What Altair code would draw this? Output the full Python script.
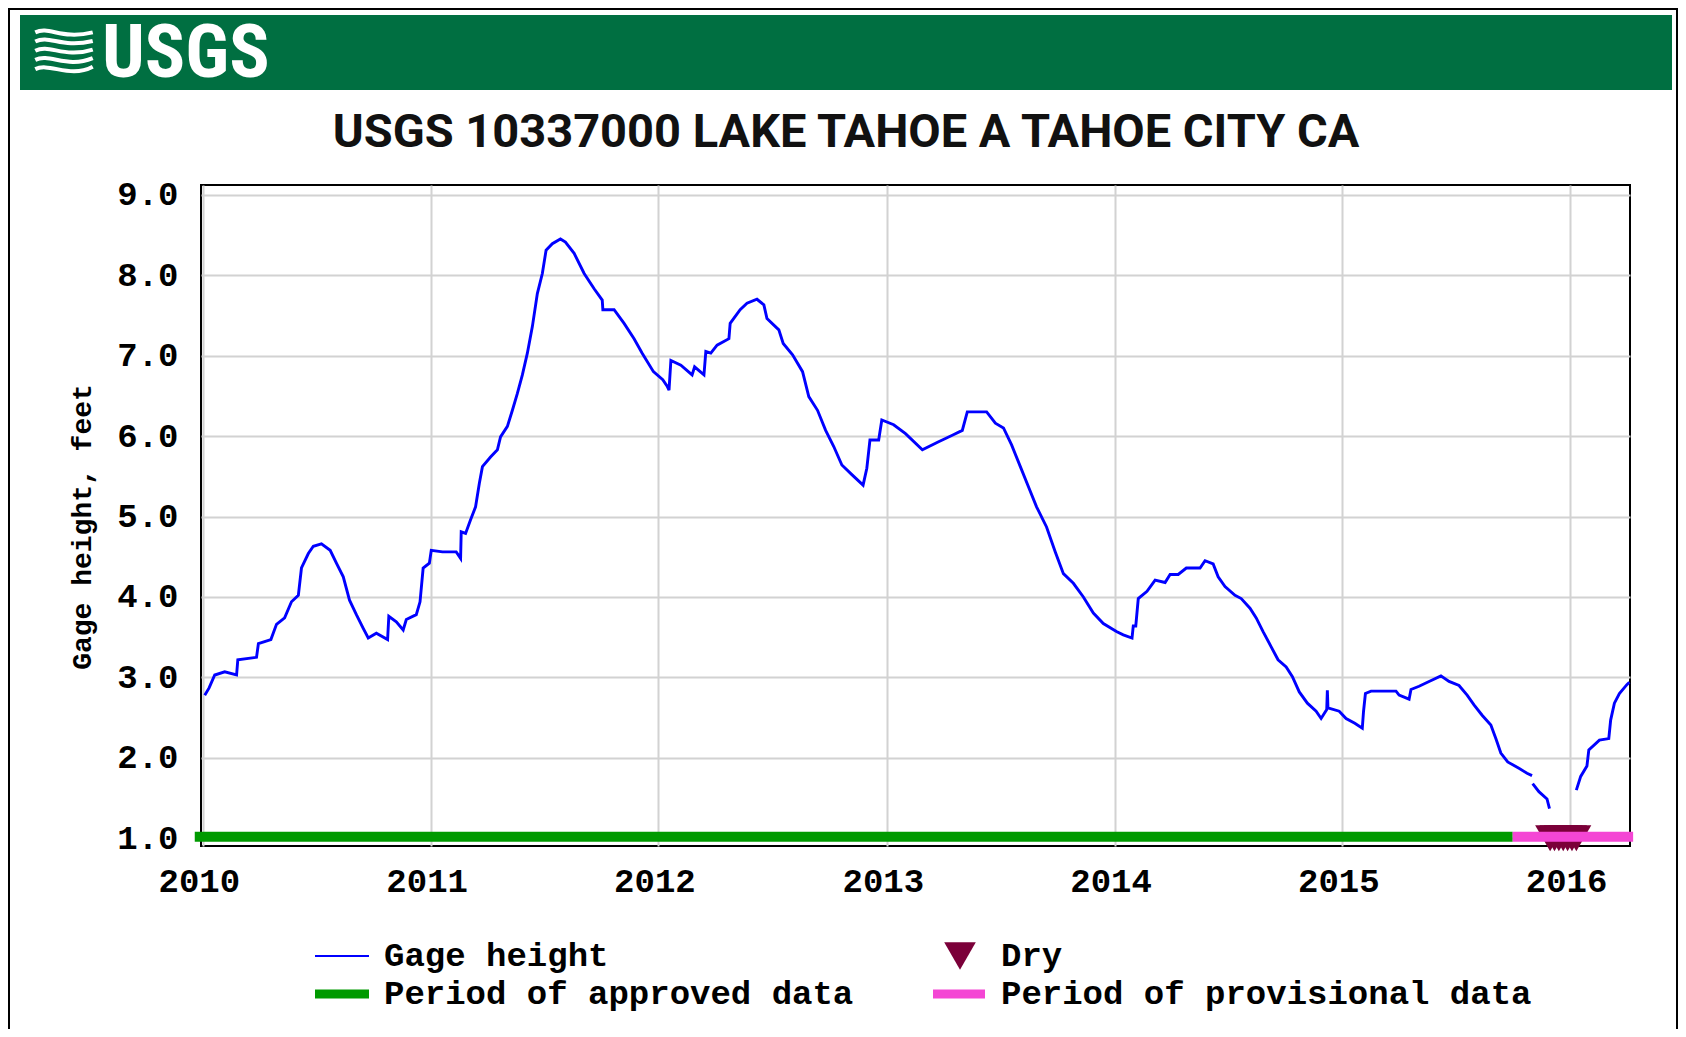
import altair as alt
import pandas as pd

# ---------------- data ----------------
gage_dates = [
    "2010-01-04", "2010-01-11", "2010-01-20", "2010-02-05", "2010-02-24", "2010-02-26",
    "2010-03-28", "2010-03-31", "2010-04-20", "2010-04-29", "2010-05-12", "2010-05-23",
    "2010-06-03", "2010-06-08", "2010-06-19", "2010-06-27", "2010-07-10", "2010-07-24",
    "2010-08-03", "2010-08-14", "2010-08-24", "2010-09-04", "2010-09-15", "2010-09-23",
    "2010-10-06", "2010-10-24", "2010-10-26", "2010-11-07", "2010-11-18", "2010-11-23",
    "2010-12-09", "2010-12-15", "2010-12-20", "2010-12-30",
    "2011-01-02", "2011-01-20", "2011-02-11", "2011-02-18", "2011-02-19", "2011-02-26",
    "2011-03-06", "2011-03-14", "2011-03-20", "2011-03-25", "2011-04-07", "2011-04-18",
    "2011-04-23", "2011-05-04", "2011-05-12", "2011-05-20", "2011-05-28", "2011-06-05",
    "2011-06-13", "2011-06-21", "2011-06-29", "2011-07-05", "2011-07-15", "2011-07-28",
    "2011-08-05", "2011-08-19", "2011-09-04", "2011-09-20", "2011-10-03", "2011-10-04",
    "2011-10-22", "2011-11-07", "2011-11-23", "2011-12-06", "2011-12-24",
    "2012-01-08", "2012-01-15", "2012-01-18", "2012-01-21", "2012-02-06", "2012-02-24",
    "2012-02-28", "2012-03-14", "2012-03-17", "2012-03-25", "2012-04-04", "2012-04-23",
    "2012-04-25", "2012-05-11", "2012-05-22", "2012-06-07", "2012-06-18", "2012-06-23",
    "2012-07-12", "2012-07-19", "2012-08-03", "2012-08-19", "2012-08-29", "2012-09-12",
    "2012-09-25", "2012-10-08", "2012-10-21", "2012-11-06", "2012-11-24", "2012-11-30",
    "2012-12-05", "2012-12-19", "2012-12-24",
    "2013-01-12", "2013-01-31", "2013-02-27", "2013-03-25", "2013-04-16", "2013-05-02",
    "2013-05-10", "2013-06-10", "2013-06-24", "2013-07-07", "2013-07-20", "2013-08-03",
    "2013-08-16", "2013-08-29", "2013-09-14", "2013-09-28", "2013-10-11", "2013-10-27",
    "2013-11-12", "2013-11-28", "2013-12-14",
    "2014-01-04", "2014-01-15", "2014-01-29", "2014-01-31", "2014-02-04", "2014-02-08",
    "2014-02-22", "2014-03-07", "2014-03-23", "2014-03-31", "2014-04-13", "2014-04-26",
    "2014-05-18", "2014-05-26", "2014-06-08", "2014-06-16", "2014-06-27", "2014-07-13",
    "2014-07-23", "2014-08-06", "2014-08-16", "2014-08-27", "2014-09-09", "2014-09-20",
    "2014-10-03", "2014-10-13", "2014-10-24", "2014-11-06", "2014-11-20", "2014-11-28",
    "2014-12-07", "2014-12-08", "2014-12-09", "2014-12-27",
    "2015-01-07", "2015-01-21", "2015-02-02", "2015-02-04", "2015-02-07", "2015-02-16",
    "2015-03-28", "2015-04-02", "2015-04-18", "2015-04-21", "2015-05-04", "2015-05-20",
    "2015-06-08", "2015-06-21", "2015-07-07", "2015-07-20", "2015-07-31", "2015-08-13",
    "2015-08-27", "2015-09-04", "2015-09-12", "2015-09-23", "2015-10-11", "2015-10-24",
    "2015-11-01",
    "2015-11-02", "2015-11-12", "2015-11-25", "2015-11-29",
    "2016-01-11", "2016-01-18", "2016-01-28", "2016-01-31", "2016-02-17", "2016-03-03",
    "2016-03-06", "2016-03-12", "2016-03-20", "2016-04-01", "2016-04-05",
]
gage_values = [
    2.78, 2.87, 3.03, 3.07, 3.03, 3.22,
    3.25, 3.42, 3.47, 3.66, 3.74, 3.94,
    4.02, 4.36, 4.54, 4.63, 4.66, 4.58,
    4.42, 4.25, 3.96, 3.78, 3.61, 3.49,
    3.55, 3.47, 3.76, 3.69, 3.59, 3.72,
    3.78, 3.94, 4.36, 4.42,
    4.58, 4.56, 4.56, 4.48, 4.81, 4.79,
    4.96, 5.12, 5.41, 5.62, 5.74, 5.83,
    5.99, 6.12, 6.32, 6.53, 6.76, 7.03,
    7.36, 7.77, 8.02, 8.31, 8.39, 8.45,
    8.41, 8.27, 8.02, 7.83, 7.69, 7.57,
    7.57, 7.40, 7.21, 7.03, 6.80,
    6.70, 6.62, 6.57, 6.94, 6.88, 6.76,
    6.86, 6.76, 7.05, 7.03, 7.13, 7.21,
    7.40, 7.57, 7.65, 7.70, 7.63, 7.46,
    7.32, 7.15, 7.01, 6.80, 6.49, 6.32,
    6.07, 5.87, 5.64, 5.52, 5.39, 5.60,
    5.95, 5.95, 6.20,
    6.14, 6.03, 5.83, 5.93, 6.01, 6.07,
    6.30, 6.30, 6.16, 6.10, 5.89, 5.62,
    5.37, 5.12, 4.87, 4.56, 4.29, 4.17,
    4.00, 3.80, 3.67,
    3.57, 3.53, 3.49, 3.64, 3.64, 3.98,
    4.07, 4.21, 4.18, 4.28, 4.28, 4.36,
    4.36, 4.45, 4.41, 4.25, 4.13, 4.02,
    3.98, 3.86, 3.74, 3.57, 3.38, 3.22,
    3.13, 3.01, 2.82, 2.68, 2.58, 2.49,
    2.60, 2.84, 2.62, 2.58,
    2.49, 2.43, 2.37, 2.58, 2.80, 2.83,
    2.83, 2.78, 2.73, 2.85, 2.89, 2.95,
    3.02, 2.95, 2.90, 2.78, 2.66, 2.53,
    2.41, 2.24, 2.06, 1.95, 1.87, 1.81,
    1.78,
    1.68, 1.58, 1.49, 1.37,
    1.60, 1.77, 1.90, 2.10, 2.22, 2.24,
    2.47, 2.68, 2.80, 2.91, 2.94,
]
# line pieces (the record is broken where the gage was dry)
gage_piece = [0] * 182 + [1] * 4 + [2] * 11

dry_dates = ["2015-11-30", "2015-12-07", "2015-12-14", "2015-12-21",
             "2015-12-28", "2016-01-04", "2016-01-11"]
dry_levels = [1.0] * 7

period_names = ["Period of approved data", "Period of provisional data"]
period_start = ["2009-12-19", "2015-10-01"]
period_end = ["2015-10-01", "2016-04-11"]
period_levels = [1.02, 1.02]

year_ticks = [2010, 2011, 2012, 2013, 2014, 2015, 2016]
y_ticks = [1, 2, 3, 4, 5, 6, 7, 8, 9]

title_text = "USGS 10337000 LAKE TAHOE A TAHOE CITY CA"
y_title = "Gage height, feet"
legend_labels = ["Gage height", "Dry", "Period of approved data", "Period of provisional data"]

# ---------------- styling ----------------
BLUE = "#0000ff"
GREEN = "#009a00"
PINK = "#f446d4"
DRY = "#7b0039"
USGS_GREEN = "#006f41"
MONO = "Liberation Mono, DejaVu Sans Mono, monospace"

# USGS wave emblem drawn as a custom symbol path (unit box -1..1)
WAVE_PATH = (
    "M -1 -0.72 C -0.5 -0.95 -0.1 -0.45 1 -0.72 "
    "M -1 -0.40 C -0.5 -0.65 -0.1 -0.15 1 -0.42 "
    "M -1 -0.08 C -0.5 -0.33 0.0 0.20 1 -0.12 "
    "M -1 0.24 C -0.5 0.00 0.1 0.55 1 0.18 "
    "M -1 0.56 C -0.5 0.32 0.2 0.90 1 0.48"
)

W, H = 1429, 661

gage = pd.DataFrame({"date": gage_dates, "value": gage_values, "piece": gage_piece})
dry = pd.DataFrame({"date": dry_dates, "value": dry_levels})
periods = pd.DataFrame({"name": period_names, "start": period_start,
                        "end": period_end, "level": period_levels})
one = pd.DataFrame({"k": [0]})

x_scale = alt.Scale(
    type="utc",
    domain=[alt.DateTime(year=2009, month=12, date=29, utc=True),
            alt.DateTime(year=2016, month=4, date=6, utc=True)],
    nice=False,
)
y_scale = alt.Scale(domain=[0.905, 9.12], nice=False, zero=False)

x_axis = alt.Axis(
    values=[alt.DateTime(year=y, month=1, date=1, utc=True) for y in year_ticks],
    format="%Y", formatType="utc", title=None, grid=True, ticks=False, tickSize=0,
    domain=False, labelPadding=35, labelBaseline="middle", labelOffset=-4,
    labelFont=MONO, labelFontWeight="bold", labelFontSize=34, labelColor="#000",
    gridColor="#d2d2d2", gridWidth=2, labelOverlap=False,
)
y_axis = alt.Axis(
    values=y_ticks, format=".1f", title=None, grid=True, ticks=False, tickSize=0,
    domain=False, labelPadding=23, labelFont=MONO, labelFontWeight="bold",
    labelFontSize=34, labelColor="#000", gridColor="#d2d2d2", gridWidth=2,
    labelOverlap=False,
)

line = alt.Chart(gage).mark_line(color=BLUE, strokeWidth=2.9).encode(
    x=alt.X("date:T", scale=x_scale, axis=x_axis),
    y=alt.Y("value:Q", scale=y_scale, axis=y_axis),
    detail="piece:N",
)

dry_pts = alt.Chart(dry).mark_point(shape="triangle-down", filled=True, size=900,
                                    color=DRY, opacity=1).encode(
    x=alt.X("date:T", title=None),
    y=alt.Y("value:Q", title=None),
)

bands = alt.Chart(periods).mark_rule(strokeWidth=10, strokeCap="butt").encode(
    x=alt.X("start:T", title=None),
    x2="end:T",
    y=alt.Y("level:Q", title=None),
    color=alt.Color("name:N", scale=alt.Scale(domain=period_names, range=[GREEN, PINK]),
                    legend=None),
)

# header banner and titles
banner = alt.Chart(one).mark_rect(color=USGS_GREEN).encode(
    x=alt.value(-181), x2=alt.value(1471), y=alt.value(-170), y2=alt.value(-95))
logo_wave = alt.Chart(one).mark_point(shape=WAVE_PATH, filled=False, stroke="white",
                                      strokeWidth=4, size=3300, opacity=1).encode(
    x=alt.value(-137), y=alt.value(-132))
logo_text = alt.Chart(one).mark_text(text="USGS", color="white", fontSize=75,
                                     font="Liberation Sans Narrow, Roboto Condensed, Arial Narrow, sans-serif",
                                     fontWeight="bold", align="left", baseline="alphabetic").encode(
    x=alt.value(-99), y=alt.value(-108))
title = alt.Chart(one).mark_text(text=title_text, color="#111", fontSize=47,
                                 font="Roboto, Liberation Sans, sans-serif", fontWeight="bold",
                                 align="center", baseline="alphabetic").encode(
    x=alt.value(645), y=alt.value(-38))
ytitle = alt.Chart(one).mark_text(text=y_title, color="#000", fontSize=28, font=MONO,
                                  fontWeight="bold", angle=270, align="center",
                                  baseline="middle").encode(
    x=alt.value(-118), y=alt.value(342))

# frame around the whole figure
frame_l = alt.Chart(one).mark_rule(color="#000", strokeWidth=2).encode(
    x=alt.value(-192), y=alt.value(-177), y2=alt.value(844))
frame_r = alt.Chart(one).mark_rule(color="#000", strokeWidth=2).encode(
    x=alt.value(1476), y=alt.value(-177), y2=alt.value(844))
frame_t = alt.Chart(one).mark_rule(color="#000", strokeWidth=2).encode(
    x=alt.value(-192), x2=alt.value(1476), y=alt.value(-176))

# legend
LROW1, LROW2 = 771, 809
leg_line = alt.Chart(one).mark_rule(color=BLUE, strokeWidth=2).encode(
    x=alt.value(114), x2=alt.value(168), y=alt.value(LROW1))
leg_green = alt.Chart(one).mark_rule(color=GREEN, strokeWidth=9, strokeCap="butt").encode(
    x=alt.value(114), x2=alt.value(168), y=alt.value(LROW2))
leg_pink = alt.Chart(one).mark_rule(color=PINK, strokeWidth=9, strokeCap="butt").encode(
    x=alt.value(732), x2=alt.value(784), y=alt.value(LROW2))
leg_dry = alt.Chart(one).mark_point(shape="triangle-down", filled=True, size=1000,
                                    color=DRY, opacity=1).encode(
    x=alt.value(759), y=alt.value(LROW1))

def leg_text(label, x, y):
    return alt.Chart(pd.DataFrame({"label": [label]})).mark_text(
        font=MONO, fontSize=34, fontWeight="bold", color="#000",
        align="left", baseline="middle").encode(
        x=alt.value(x), y=alt.value(y), text="label:N")

legend = (leg_line + leg_green + leg_pink + leg_dry
          + leg_text(legend_labels[0], 183, LROW1)
          + leg_text(legend_labels[1], 800, LROW1)
          + leg_text(legend_labels[2], 183, LROW2)
          + leg_text(legend_labels[3], 800, LROW2))

chart = alt.layer(
    line, dry_pts, bands,
    banner, logo_wave, logo_text, title, ytitle, frame_l, frame_r, frame_t,
    legend,
).properties(
    width=W, height=H,
    autosize=alt.AutoSizeParams(type="none"),
    padding={"left": 193, "top": 177, "right": 48, "bottom": 183},
    background="white",
).configure_view(
    stroke="#000", strokeWidth=2, fill="white",
)

chart.save("out.html", embed_options={"renderer": "svg", "actions": False})
